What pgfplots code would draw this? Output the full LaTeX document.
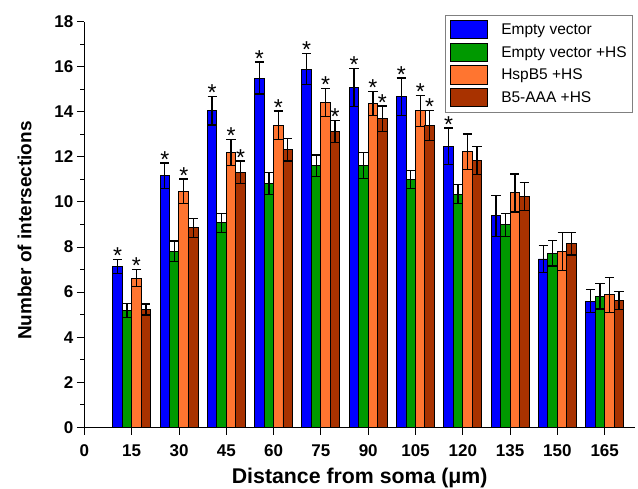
\documentclass[border=0pt]{standalone}
\usepackage{fontspec}
\setmainfont{Liberation Sans}
\usepackage{pgfplots}
\usepackage{pgfplotstable}
\pgfplotsset{compat=1.18}
\definecolor{evblue}{RGB}{0,0,255}
\definecolor{evgreen}{RGB}{0,153,0}
\definecolor{hsporange}{RGB}{255,117,48}
\definecolor{aaabrown}{RGB}{168,50,0}

% distance, mean and error for each group
\pgfplotstableread{
x   b     be    g     ge    o     oe    r     re
15  7.14  0.32  5.19  0.31  6.62  0.38  5.23  0.24
30  11.17 0.56  7.82  0.45  10.47 0.55  8.85  0.43
45  14.05 0.64  9.07  0.42  12.20 0.57  11.32 0.50
60  15.50 0.71  10.83 0.49  13.40 0.64  12.32 0.50
75  15.90 0.68  11.61 0.48  14.41 0.62  13.12 0.49
90  15.08 0.85  11.61 0.57  14.38 0.53  13.70 0.56
105 14.67 0.83  10.99 0.40  14.04 0.68  13.40 0.66
120 12.47 0.81  10.34 0.42  12.23 0.78  11.84 0.61
135 9.38  0.90  8.99  0.51  10.40 0.84  10.24 0.61
150 7.47  0.61  7.73  0.57  7.80  0.83  8.14  0.50
165 5.59  0.51  5.81  0.56  5.88  0.78  5.64  0.40
}\datatable

\pgfplotsset{
    grpbar/.style={ybar, bar width=3.05, bar shift=0, draw=black, line width=0.9pt},
    stars/.style={only marks, mark=*, mark size=0pt, mark options={draw=none, fill=none},
        forget plot, nodes near coords={*},
        every node near coord/.style={font=\fontsize{23}{23}\selectfont, anchor=south,
            inner sep=0pt, yshift=-4.5pt}},
}

\begin{document}
\begin{tikzpicture}
\begin{axis}[
    scale only axis,
    width=550.6pt,
    height=405.6pt,
    xmin=0, xmax=174.6,
    ymin=0, ymax=18,
    xtick={0,15,...,165},
    ytick={0,2,...,18},
    minor y tick num=1,
    axis x line*=bottom,
    axis y line*=left,
    axis line style={black, line width=1pt},
    tick style={black, line width=1pt},
    tick align=outside,
    major tick length=7.5pt,
    minor tick length=4pt,
    /pgf/number format/assume math mode=true,
    tick label style={font=\bfseries\fontsize{17}{17}\selectfont},
    xticklabel style={yshift=-6pt},
    every axis x label/.style={at={(axis description cs:0.5,0)}, anchor=base, yshift=-56pt,
        font=\bfseries\fontsize{21.3}{21.3}\selectfont},
    every axis y label/.style={at={(axis description cs:-0.1085,0.485)}, anchor=center, rotate=90,
        font=\bfseries\fontsize{19}{19}\selectfont},
    xlabel={Distance from soma (μm)},
    ylabel={Number of intersections},
    clip=false,
    legend cell align=left,
    legend style={
        at={(0.9964,1.0173)}, anchor=north east,
        draw=black!50, line width=0.8pt,
        font=\fontsize{15.5}{15.5}\selectfont,
        inner sep=5pt, row sep=3.5pt, column sep=12pt,
        nodes={inner sep=1pt},
    },
    legend image code/.code={
        \draw[#1, line width=0.9pt, draw=black] (0pt,-9.15pt) rectangle (37pt,9.15pt);
    },
    error bars/error bar style={black, line width=1.3pt},
    error bars/error mark options={rotate=90, mark size=4.6pt, line width=1.3pt, black},
]
\addplot[grpbar, fill=evblue, error bars/.cd, y dir=both, y explicit]
    table[x expr=\thisrow{x}-4.5, y=b, y error=be] {\datatable};
\addlegendentry{Empty vector}
\addplot[grpbar, fill=evgreen, error bars/.cd, y dir=both, y explicit]
    table[x expr=\thisrow{x}-1.5, y=g, y error=ge] {\datatable};
\addlegendentry{Empty vector +HS}
\addplot[grpbar, fill=hsporange, error bars/.cd, y dir=both, y explicit]
    table[x expr=\thisrow{x}+1.5, y=o, y error=oe] {\datatable};
\addlegendentry{HspB5 +HS}
\addplot[grpbar, fill=aaabrown, error bars/.cd, y dir=both, y explicit]
    table[x expr=\thisrow{x}+4.5, y=r, y error=re] {\datatable};
\addlegendentry{B5-AAA +HS}

% significance stars above the error bars
\addplot[stars] coordinates {(10.5,7.46) (25.5,11.73) (40.5,14.69) (55.5,16.21)
    (70.5,16.58) (85.5,15.93) (100.5,15.50) (115.5,13.28)};
\addplot[stars] coordinates {(16.5,7.00) (31.5,11.02) (46.5,12.77) (61.5,14.04)
    (76.5,15.03) (91.5,14.91) (106.5,14.72)};
\addplot[stars] coordinates {(49.5,11.82) (79.5,13.61) (94.5,14.26) (109.5,14.06)};
\end{axis}
\pgfresetboundingbox
\path[use as bounding box] (-84.4pt,-61.7pt) rectangle (553.6pt,427.3pt);
\end{tikzpicture}
\end{document}
